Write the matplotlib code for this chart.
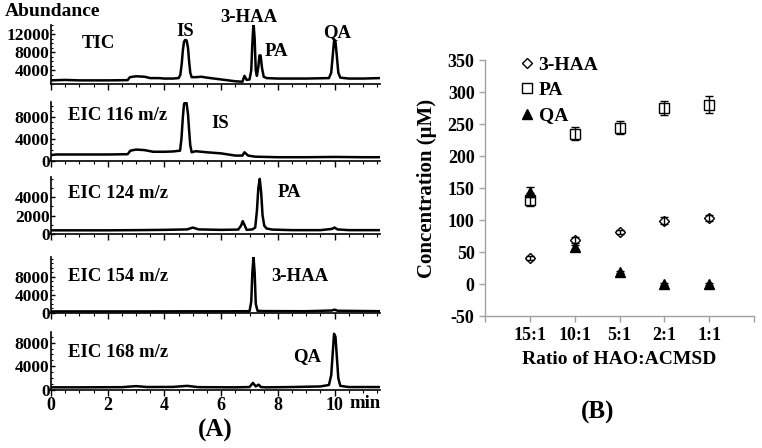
import matplotlib
matplotlib.use("Agg")
import matplotlib.pyplot as plt
from matplotlib.ticker import MultipleLocator

plt.rcParams['font.family'] = ['Liberation Serif', 'DejaVu Serif']
plt.rcParams['font.weight'] = 'bold'
plt.rcParams['axes.unicode_minus'] = False

# ---------------- Panel A data (retention time, abundance) ----------------
tic_t = [0, 0.5, 1, 2, 2.7, 2.78, 3.0, 3.3, 3.5, 3.8, 4.0, 4.3, 4.5, 4.56, 4.61, 4.65, 4.69, 4.73, 4.78, 4.83, 4.87, 4.91, 4.96,
         5.1, 5.3, 5.5, 6.0, 6.5, 6.75, 6.82, 6.9, 7.0, 7.06, 7.1, 7.14, 7.18, 7.22, 7.26, 7.31, 7.35, 7.39, 7.44, 7.5, 7.6,
         8, 9, 9.8, 9.88, 9.93, 9.98, 10.03, 10.08, 10.13, 10.2, 10.5, 11, 11.6]
tic_v = [1800, 1900, 1800, 1800, 1850, 2500, 2700, 2600, 2300, 2300, 2200, 2200, 2300, 3000, 5500, 8500, 10300, 10700, 10600, 9000, 6000, 3500, 2500,
         2500, 2600, 2400, 2000, 1600, 1500, 2800, 1900, 2000, 4000, 10000, 14500, 11000, 4000, 2800, 4800, 7300, 7300, 4500, 2600, 2300,
         2200, 2200, 2300, 3500, 7000, 10500, 10300, 7000, 3500, 2400, 2200, 2200, 2300]

e116_t = [0, 0.2, 1, 2, 2.7, 2.8, 3.0, 3.3, 3.6, 4.0, 4.3, 4.55, 4.6, 4.65, 4.69, 4.73, 4.78, 4.83, 4.87, 4.91, 4.96,
          5.1, 5.5, 6.0, 6.5, 6.75, 6.82, 6.95, 7.2, 8, 9, 10, 11, 11.6]
e116_v = [1000, 1100, 1100, 1100, 1150, 1800, 2000, 1900, 1600, 1600, 1650, 1800, 4000, 8000, 10300, 10700, 10500, 8500, 5500, 2800, 1500,
          1700, 1500, 1300, 900, 900, 1500, 900, 700, 600, 600, 650, 600, 600]

e124_t = [0, 1, 2, 3, 4, 4.8, 5.0, 5.2, 6.0, 6.6, 6.7, 6.76, 6.82, 6.9, 7.1, 7.2, 7.26, 7.31, 7.36, 7.41, 7.46, 7.52, 7.6, 7.8,
          8.5, 9.5, 9.9, 10.0, 10.1, 10.5, 11.6]
e124_v = [400, 400, 400, 420, 450, 500, 700, 500, 450, 480, 900, 1400, 1000, 450, 500, 700, 2500, 5000, 6000, 4500, 2000, 900, 600, 480,
          420, 420, 550, 700, 500, 420, 420]

e154_t = [0, 1, 3, 5, 6.5, 7.0, 7.06, 7.1, 7.14, 7.18, 7.22, 7.28, 7.5, 9, 9.9, 10.0, 10.1, 11.6]
e154_v = [350, 350, 350, 380, 380, 400, 2500, 9000, 12400, 9000, 2000, 500, 420, 400, 550, 750, 500, 400]

e168_t = [0, 1, 2.5, 3.0, 3.4, 4.3, 4.8, 5.2, 6.5, 7.0, 7.12, 7.22, 7.32, 7.4, 7.6, 8.5, 9.5, 9.8, 9.88, 9.93, 9.98, 10.03, 10.08, 10.13, 10.2, 10.5, 11.6]
e168_v = [450, 450, 480, 650, 500, 520, 700, 480, 450, 500, 1200, 600, 900, 500, 450, 500, 600, 850, 2500, 6000, 9500, 9000, 5500, 2000, 700, 500, 500]

traces = [(tic_t, tic_v), (e116_t, e116_v), (e124_t, e124_v), (e154_t, e154_v), (e168_t, e168_v)]
ylims = [(1000, 14000), (0, 10700), (0, 6200), (0, 12400), (0, 9800)]
yticks = [[4000, 8000, 12000], [0, 4000, 8000], [0, 2000, 4000], [0, 4000, 8000], [0, 4000, 8000]]
trace_names = ["TIC", "EIC 116 m/z", "EIC 124 m/z", "EIC 154 m/z", "EIC 168 m/z"]

# ---------------- Panel B data ----------------
ratios = ["15:1", "10:1", "5:1", "2:1", "1:1"]
haa = [41, 69, 81, 99, 103]
haa_err = [3, 5, 3, 5, 5]
pa = [132, 235, 244, 275, 280]
pa_err = [10, 10, 10, 11, 13]
qa = [144, 58, 19, 0, 0]
qa_err = [8, 3, 2, 1, 1]

W, H = 762, 448
fig = plt.figure(figsize=(W / 100, H / 100), dpi=100)

def fx(px):
    return px / W

def fy(py):
    return 1 - py / H

panel_px = [(25, 84), (102, 160.5), (177, 234), (257, 313), (332, 390)]
axes = []
for i, ((top, bot), (t, v)) in enumerate(zip(panel_px, traces)):
    ax = fig.add_axes([fx(51), fy(bot), fx(380 - 51), (bot - top) / H])
    ax.plot(t, v, color='black', lw=1.8)
    ax.set_xlim(0, 11.6)
    ax.set_ylim(*ylims[i])
    ax.set_yticks(yticks[i])
    ax.yaxis.set_minor_locator(MultipleLocator(1000))
    ax.xaxis.set_major_locator(MultipleLocator(2))
    ax.xaxis.set_minor_locator(MultipleLocator(0.5))
    for s in ['top', 'right']:
        ax.spines[s].set_visible(False)
    for s in ['left', 'bottom']:
        ax.spines[s].set_linewidth(1.2)
    ax.tick_params(axis='y', direction='in', length=3, width=1, labelsize=12.5, pad=1)
    ax.tick_params(axis='y', which='minor', direction='in', length=1.5, width=0.8)
    ax.tick_params(axis='x', direction='out', length=4, width=1, labelsize=13, pad=1)
    ax.tick_params(axis='x', which='minor', direction='out', length=2, width=0.8)
    if i < 4:
        ax.tick_params(axis='x', labelbottom=False)
    for lab in ax.get_yticklabels() + ax.get_xticklabels():
        lab.set_fontweight('bold')
    axes.append(ax)

# Panel A text labels
fig.text(fx(5), fy(12), "Abundance", fontsize=14, fontweight='bold', va='center', ha='left')
fig.text(fx(82), fy(43), "TIC", fontsize=13.5, fontweight='bold', va='center', ha='left')
fig.text(fx(185), fy(31), "IS", fontsize=13.5, fontweight='bold', va='center', ha='center')
fig.text(fx(249), fy(18), "3-HAA", fontsize=13.5, fontweight='bold', va='center', ha='center')
fig.text(fx(276), fy(51), "PA", fontsize=13.5, fontweight='bold', va='center', ha='center')
fig.text(fx(337), fy(33), "QA", fontsize=13.5, fontweight='bold', va='center', ha='center')
for name, yy in zip(trace_names[1:], [116, 193, 276, 352]):
    fig.text(fx(68), fy(yy), name, fontsize=13.5, fontweight='bold', va='center', ha='left')
fig.text(fx(220), fy(123), "IS", fontsize=13.5, fontweight='bold', va='center', ha='center')
fig.text(fx(289), fy(192), "PA", fontsize=13.5, fontweight='bold', va='center', ha='center')
fig.text(fx(300), fy(276), "3-HAA", fontsize=13.5, fontweight='bold', va='center', ha='center')
fig.text(fx(307), fy(357), "QA", fontsize=13.5, fontweight='bold', va='center', ha='center')
fig.text(fx(365), fy(403), "min", fontsize=13.5, fontweight='bold', va='center', ha='center')
fig.text(fx(215), fy(430), "(A)", fontsize=18, fontweight='bold', va='center', ha='center')

# ---------------- Panel B ----------------
gray = '#A0A0A0'
bx = fig.add_axes([fx(485), fy(316), fx(754 - 485), (316 - 60) / H])
xs = list(range(1, len(ratios) + 1))
bx.errorbar(xs, haa, yerr=haa_err, fmt='none', ecolor='black', elinewidth=1, capsize=3, capthick=1)
bx.errorbar(xs, pa, yerr=pa_err, fmt='none', ecolor='black', elinewidth=1, capsize=3, capthick=1)
bx.errorbar(xs, qa, yerr=qa_err, fmt='none', ecolor='black', elinewidth=1, capsize=3, capthick=1)
bx.plot(xs, haa, ls='none', marker='D', ms=5.5, mfc='none', mec='black', mew=1, label='3-HAA')
bx.plot(xs, pa, ls='none', marker='s', ms=7.5, mfc='none', mec='black', mew=1, label='PA')
bx.plot(xs, qa, ls='none', marker='^', ms=7, mfc='black', mec='black', label='QA')
bx.set_xlim(0, 6)
bx.set_ylim(-50, 350)
bx.set_yticks(range(-50, 351, 50))
bx.set_xticks(range(0, 7))
bx.set_xticklabels([""] + ratios + [""])
for s in ['top', 'right']:
    bx.spines[s].set_visible(False)
for s in ['left', 'bottom']:
    bx.spines[s].set_color(gray)
    bx.spines[s].set_linewidth(1)
bx.tick_params(axis='both', color=gray, direction='out', length=4, width=1, labelsize=13)
bx.tick_params(axis='x', pad=4)
for lab in bx.get_yticklabels() + bx.get_xticklabels():
    lab.set_fontweight('bold')
bx.set_ylabel("Concentration (μM)", fontsize=15, fontweight='bold', labelpad=8)
bx.set_xlabel("Ratio of HAO:ACMSD", fontsize=14, fontweight='bold', labelpad=5)
leg = bx.legend(loc='upper left', bbox_to_anchor=(fx(521), fy(56)), bbox_transform=fig.transFigure,
                frameon=False, handlelength=0.6, handletextpad=0.3, labelspacing=0.4,
                prop={'size': 14, 'weight': 'bold'}, borderaxespad=0, borderpad=0)
fig.text(fx(598), fy(412), "(B)", fontsize=18, fontweight='bold', va='center', ha='center')

fig.savefig("out.png", dpi=100)
